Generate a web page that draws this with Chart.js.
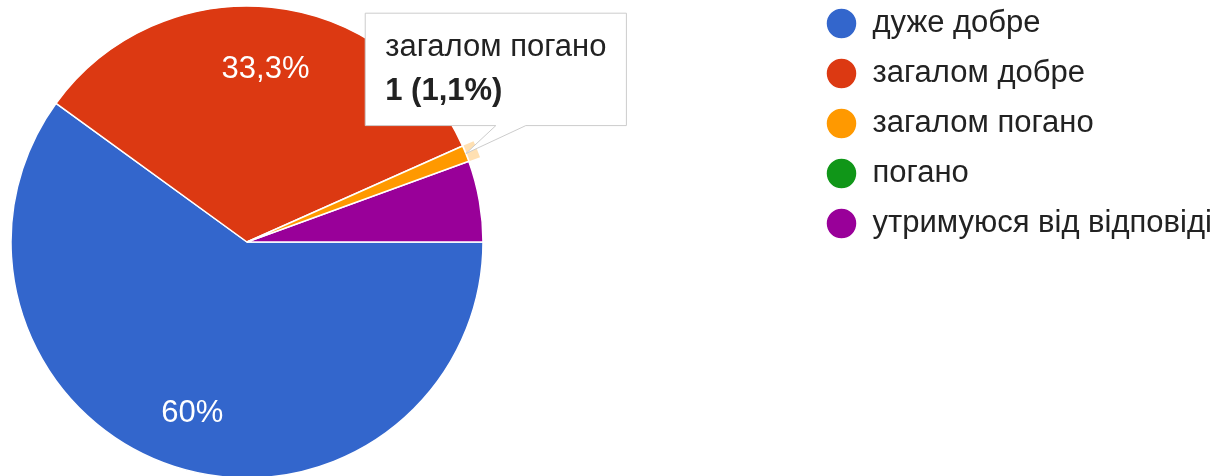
<!DOCTYPE html>
<html>
<head>
<meta charset="utf-8">
<script src="https://cdn.jsdelivr.net/npm/chart.js@4"></script>
<style>
  html, body { margin: 0; padding: 0; background: #fff; }
  #wrap { width: 1219px; height: 476px; position: relative; }
</style>
</head>
<body>
<div id="wrap"><canvas id="pie"></canvas></div>
<script>
// дані опитування
const categories = ['дуже добре', 'загалом добре', 'загалом погано', 'погано', 'утримуюся від відповіді'];
const counts = [54, 30, 1, 0, 5];
const sliceColors = ['#3366cc', '#dc3912', '#ff9900', '#109618', '#990099'];
const highlightedIndex = 2; // сектор з підказкою

const FONT = "'Liberation Sans', Arial, sans-serif";
const FONT_SIZE = 31;
const total = counts.reduce((a, b) => a + b, 0);

function pctText(v) {
    let s = (v / total * 100).toFixed(1);
    if (s.endsWith('.0')) s = s.slice(0, -2);
    return s.replace('.', ',') + '%';
}

// розкладка як у Google Charts: пиріг зліва, легенда справа
const layoutPlugin = {
    id: 'googleLayout',
    afterLayout(chart) {
        const a = chart.chartArea;
        a.left = 0; a.top = 8; a.right = 494; a.bottom = chart.height;
        a.width = a.right - a.left; a.height = a.bottom - a.top;
        const lg = chart.legend;
        lg.left = 807; lg.right = chart.width; lg.top = -11; lg.bottom = chart.height;
        lg.width = lg.right - lg.left; lg.height = lg.bottom - lg.top;
    }
};

// підписи відсотків на секторах + підсвічування активного сектора
const sliceTextPlugin = {
    id: 'sliceText',
    afterDatasetsDraw(chart) {
        const ctx = chart.ctx;
        const meta = chart.getDatasetMeta(0);
        ctx.save();
        chart.getActiveElements().forEach(act => {
            const el = act.element;
            const p = el.getProps(['x', 'y', 'startAngle', 'endAngle', 'outerRadius']);
            ctx.beginPath();
            ctx.arc(p.x, p.y, p.outerRadius + 12, p.startAngle, p.endAngle);
            ctx.arc(p.x, p.y, p.outerRadius + 1, p.endAngle, p.startAngle, true);
            ctx.closePath();
            ctx.fillStyle = 'rgba(255, 153, 0, 0.3)';
            ctx.fill();
        });
        ctx.font = FONT_SIZE + 'px ' + FONT;
        ctx.fillStyle = '#fff';
        ctx.textAlign = 'center';
        ctx.textBaseline = 'middle';
        meta.data.forEach((el, i) => {
            if (counts[i] / total < 0.1) return;
            const p = el.getProps(['x', 'y', 'startAngle', 'endAngle', 'outerRadius']);
            const mid = (p.startAngle + p.endAngle) / 2;
            const r = p.outerRadius * 0.75;
            ctx.fillText(pctText(counts[i]), p.x + Math.cos(mid) * r, p.y + Math.sin(mid) * r + 3);
        });
        ctx.restore();
    }
};

const CALLOUT_SHIFT = 30;

// підказка прив'язана до краю сектора
Chart.Tooltip.positioners.sliceEdge = function(items) {
    if (!items.length) return false;
    const p = items[0].element.getProps(['x', 'y', 'startAngle', 'endAngle', 'outerRadius']);
    const mid = (p.startAngle + p.endAngle) / 2;
    return {
        x: p.x + Math.cos(mid) * p.outerRadius + CALLOUT_SHIFT,
        y: p.y + Math.sin(mid) * p.outerRadius
    };
};

const canvas = document.getElementById('pie');
const chart = new Chart(canvas, {
    type: 'pie',
    data: {
        labels: categories,
        datasets: [{
            data: counts,
            backgroundColor: sliceColors,
            hoverBackgroundColor: sliceColors,
            borderColor: '#fff',
            hoverBorderColor: '#fff',
            borderWidth: 1.5,
            hoverOffset: 0,
            radius: 236
        }]
    },
    options: {
        responsive: true,
        maintainAspectRatio: false,
        animation: false,
        rotation: 90,
        events: [],
        plugins: {
            legend: {
                position: 'right',
                align: 'start',
                labels: {
                    usePointStyle: true,
                    pointStyle: 'circle',
                    pointStyleWidth: 31,
                    boxHeight: 22,
                    padding: 19,
                    color: '#222',
                    font: { size: FONT_SIZE, family: FONT }
                }
            },
            tooltip: {
                position: 'sliceEdge',
                xAlign: 'center',
                yAlign: 'bottom',
                backgroundColor: '#fff',
                borderColor: '#ccc',
                borderWidth: 1,
                cornerRadius: 0,
                caretSize: 28,
                caretPadding: 0,
                displayColors: false,
                titleColor: '#222',
                bodyColor: '#222',
                titleFont: { size: FONT_SIZE, weight: 'normal', family: FONT },
                bodyFont: { size: FONT_SIZE, weight: 'bold', family: FONT },
                titleMarginBottom: 6,
                padding: { left: 20, right: 20, top: 16, bottom: 16 },
                callbacks: {
                    title: items => items[0].label,
                    label: item => item.raw + ' (' + pctText(item.raw) + ')'
                }
            }
        }
    },
    plugins: [layoutPlugin, sliceTextPlugin]
});

// скошений "хвостик" підказки, як у Google
chart.tooltip.drawCaret = function(pt, ctx, size) {
    const bottom = pt.y + size.height;
    const cx = this.caretX;
    ctx.lineTo(cx + CALLOUT_SHIFT, bottom);
    ctx.lineTo(cx - CALLOUT_SHIFT, this.caretY);
    ctx.lineTo(cx, bottom);
};

const active = [{ datasetIndex: 0, index: highlightedIndex }];
chart.setActiveElements(active);
chart.tooltip.setActiveElements(active, { x: 0, y: 0 });
chart.update();
</script>
</body>
</html>
